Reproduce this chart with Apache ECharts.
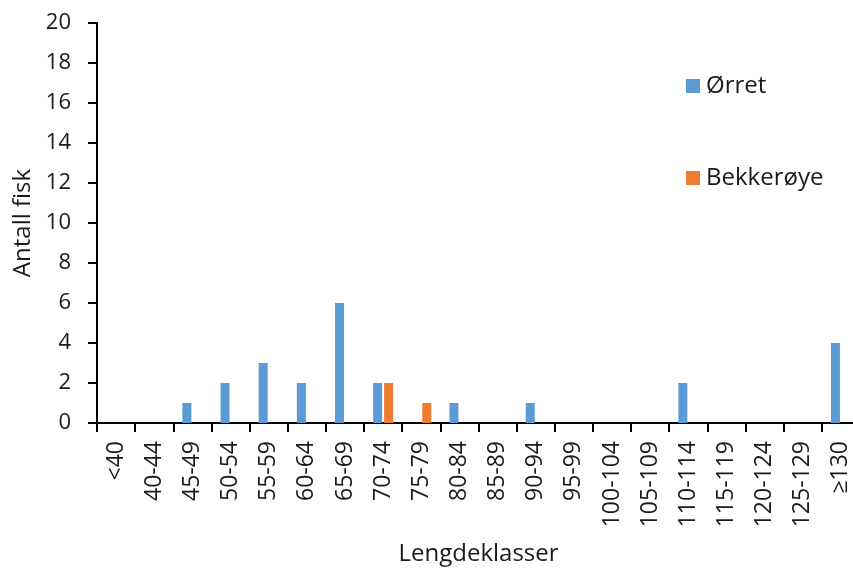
<!DOCTYPE html>
<html>
<head>
<meta charset="utf-8">
<script src="https://cdn.jsdelivr.net/npm/echarts@6/dist/echarts.min.js"></script>
<style>
  html, body { margin: 0; padding: 0; background: #fff; }
  #chart { width: 853px; height: 568px; }
</style>
</head>
<body>
<div id="chart"></div>
<script>
// Length classes (cm) and fish counts per species
const lengthClasses = ['<40', '40-44', '45-49', '50-54', '55-59', '60-64', '65-69', '70-74', '75-79', '80-84',
  '85-89', '90-94', '95-99', '100-104', '105-109', '110-114', '115-119', '120-124', '125-129', '≥130'];
const orret = [0, 0, 1, 2, 3, 2, 6, 2, 0, 1, 0, 1, 0, 0, 0, 2, 0, 0, 0, 4];
const bekkeroye = [0, 0, 0, 0, 0, 0, 0, 2, 1, 0, 0, 0, 0, 0, 0, 0, 0, 0, 0, 0];

const FONT = '"Open Sans", "Noto Sans", sans-serif';
const TEXT = '#1a1a1a';

const chart = echarts.init(document.getElementById('chart'), null, { renderer: 'canvas' });
chart.setOption({
  animation: false,
  textStyle: { fontFamily: FONT, color: TEXT },
  // plot area runs slightly past the right edge of the canvas
  grid: { left: 97, top: 23, width: 763, height: 400, containLabel: false, outerBoundsMode: 'none' },
  legend: {
    orient: 'vertical',
    left: 686,
    top: 74,
    padding: 0,
    itemWidth: 14,
    itemHeight: 14,
    itemGap: 68,
    icon: 'rect',
    textStyle: { fontFamily: FONT, fontSize: 24, color: TEXT, padding: [0, 0, 0, 1] },
    data: ['Ørret', 'Bekkerøye']
  },
  xAxis: {
    type: 'category',
    data: lengthClasses,
    boundaryGap: true,
    name: 'Lengdeklasser',
    nameLocation: 'middle',
    nameGap: 119,
    nameTextStyle: { fontFamily: FONT, fontSize: 24, color: TEXT },
    axisLine: { lineStyle: { color: '#000', width: 2 } },
    axisTick: { show: true, length: 9, interval: 0, lineStyle: { color: '#000', width: 2 } },
    axisLabel: { interval: 0, rotate: 90, margin: 18, fontFamily: FONT, fontSize: 23, color: TEXT },
    splitLine: { show: false }
  },
  yAxis: {
    type: 'value',
    min: 0,
    max: 20,
    interval: 2,
    name: 'Antall fisk',
    nameLocation: 'middle',
    nameGap: 60,
    nameTextStyle: { fontFamily: FONT, fontSize: 24, color: TEXT },
    axisLine: { show: true, lineStyle: { color: '#000', width: 2 } },
    axisTick: { show: true, length: 9, lineStyle: { color: '#000', width: 2 } },
    axisLabel: { margin: 26, fontFamily: FONT, fontSize: 22, color: TEXT },
    splitLine: { show: false }
  },
  series: [
    {
      name: 'Ørret',
      type: 'bar',
      data: orret,
      barWidth: 9,
      barGap: '22%',
      itemStyle: { color: '#5B9BD5' }
    },
    {
      name: 'Bekkerøye',
      type: 'bar',
      data: bekkeroye,
      barWidth: 9,
      itemStyle: { color: '#ED7D31' }
    }
  ]
});
</script>
</body>
</html>
